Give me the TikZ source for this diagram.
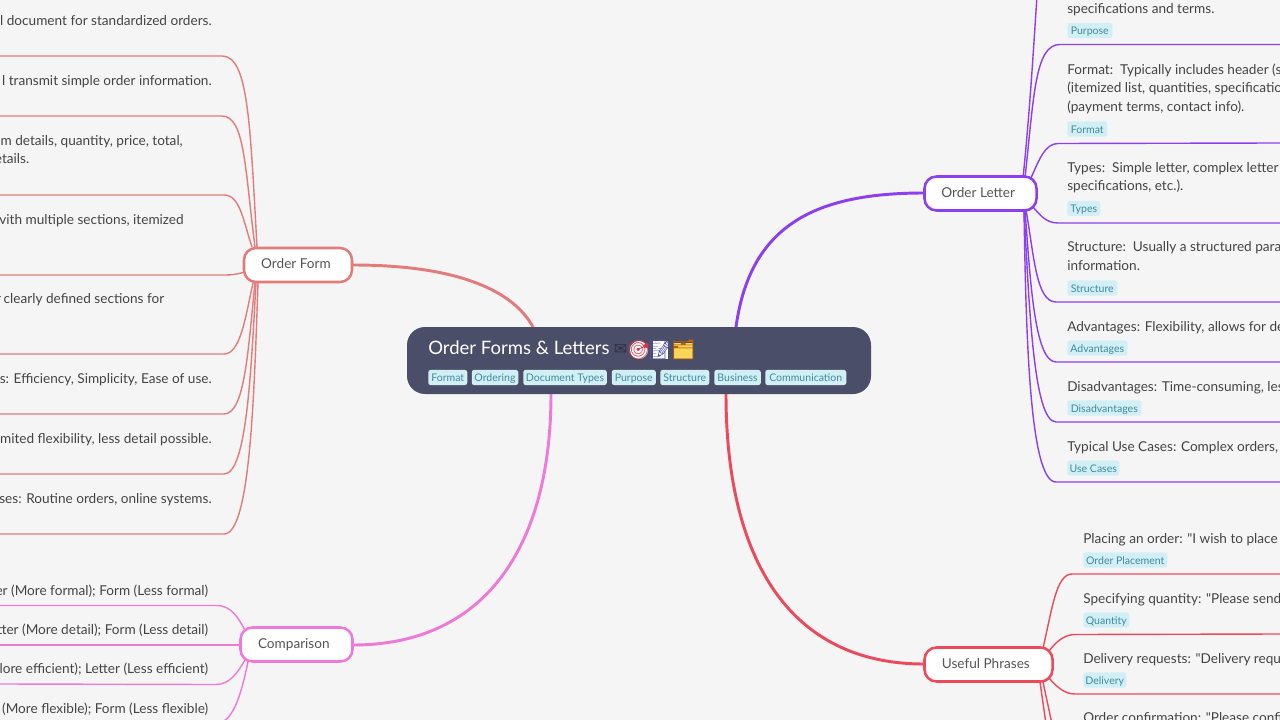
\documentclass[tikz,border=0pt]{standalone}
\usepackage{fontspec}
\setmainfont{Lato}
\newfontfamily\latofont{Lato}
\newfontfamily\emojifont{Noto Emoji}
\newfontfamily\symfont{DejaVu Sans}
\definecolor{pagebg}{HTML}{F5F5F5}
\definecolor{rootbg}{HTML}{4B4E69}
\definecolor{tagbg}{HTML}{D2EFF6}
\definecolor{tagfg}{HTML}{3F8AA0}
\definecolor{bodyfg}{HTML}{444444}
\definecolor{nodefg}{HTML}{555555}
\definecolor{cform}{HTML}{E37B7B}
\definecolor{ccomp}{HTML}{EE79D8}
\definecolor{cletter}{HTML}{8B3FF0}
\definecolor{cphrase}{HTML}{EC4A5C}
\definecolor{emred}{HTML}{DD3344}
\definecolor{emyellow}{HTML}{F8D65A}
\tikzset{
  x=0.75pt,y=-0.75pt,
  rootbox/.style={draw=none,fill=rootbg,rounded corners=13.5pt,minimum width=348pt,minimum height=50.25pt,inner sep=0pt},
  roottitle/.style={anchor=base west,text=white,font=\latofont\fontsize{13.9pt}{16pt}\selectfont,inner sep=0pt},
  branchbox/.style={draw=#1,fill=white,line width=1.9pt,rounded corners=9pt,text=nodefg,font=\latofont\fontsize{10.2pt}{12pt}\selectfont,inner sep=0pt,minimum height=25.5pt,text height=8pt,text depth=2.4pt},
  tagbox/.style={fill=tagbg,text=tagfg,rounded corners=1.8pt,font=\latofont\fontsize{7.9pt}{9pt}\selectfont,inner sep=0pt,minimum height=11.4pt,anchor=west,text height=7pt,text depth=0.6pt},
  lefttext/.style={anchor=east,text=bodyfg,font=\latofont\fontsize{10.2pt}{12pt}\selectfont,inner sep=0pt,text height=9.5pt,text depth=1.3pt},
  righttext/.style={anchor=west,text=bodyfg,font=\latofont\fontsize{10.2pt}{12pt}\selectfont,inner sep=0pt,text height=9.5pt,text depth=1.3pt},
  mainlink/.style={draw=#1,line width=2.2pt},
  childlink/.style={draw=#1,line width=1.05pt},
  emoji/.style={inner sep=0pt,font=\emojifont\fontsize{14.5pt}{16pt}\selectfont},
}
\newcommand{\tagat}[4]{\node[tagbox,minimum width=#3*0.75pt] (#1) at (#2) {#4};}
\begin{document}
\begin{tikzpicture}
\useasboundingbox (0,0) rectangle (1280,720);
\clip (0,0) rectangle (1280,720);
\fill[pagebg] (0,0) rectangle (1280,720);

\coordinate (rootA) at (533,327);
\coordinate (rootB) at (551,394);
\coordinate (rootC) at (736,327);
\coordinate (rootD) at (726,394);
\coordinate (F) at (353,265);
\coordinate (C) at (353,645);
\coordinate (L) at (924,193);
\coordinate (P) at (924,664);

% main links
\draw[mainlink=cform] (F) .. controls (445,265) and (510,285) .. (rootA);
\draw[mainlink=ccomp] (C) .. controls (490,645) and (551,540) .. (rootB);
\draw[mainlink=cletter] (L) .. controls (815,193) and (750,225) .. (rootC);
\draw[mainlink=cphrase] (P) .. controls (790,664) and (726,560) .. (rootD);

% ends of the child lines
\foreach \n/\y in {f1/56,f2/116,f3/195,f4/275,f5/354,f6/414,f7/474,f8/534,c1/605.5,c2/645,c3/684,c4/723}
  \coordinate (\n) at (0,\y);
\foreach \n/\y in {l2/44.5,l3/143,l4/223,l5/302,l6/362,l7/422,l8/482,p1/574,p2/634,p3/694}
  \coordinate (\n) at (1280,\y);
\coordinate (l1) at (1037,-4);
\coordinate (p4) at (1046,724);
\coordinate (p5) at (1052,724);

% left: Order Form
\draw[childlink=cform] (f1) -- (222,56) .. controls (248,56) and (250,120) .. (257,247);
\draw[childlink=cform] (f2) -- (222,116) .. controls (245,116) and (245,170) .. (255,247);
\draw[childlink=cform] (f3) -- (224,195) .. controls (240,195) and (243,220) .. (252,247);
\draw[childlink=cform] (f4) -- (226,275) .. controls (232,275) and (238,274) .. (245,272);
\draw[childlink=cform] (f5) -- (224,354) .. controls (240,354) and (245,320) .. (253,283);
\draw[childlink=cform] (f6) -- (224,414) .. controls (245,414) and (248,350) .. (255,283);
\draw[childlink=cform] (f7) -- (224,474) .. controls (247,474) and (251,370) .. (256,283);
\draw[childlink=cform] (f8) -- (224,534) .. controls (250,534) and (254,400) .. (258,283);

% left: Comparison
\draw[childlink=ccomp] (c1) -- (216,605.5) .. controls (232,605.5) and (238,618) .. (245,630);
\draw[childlink=ccomp] (c2) -- (242,645);
\draw[childlink=ccomp] (c3) -- (216,684.5) .. controls (230,684.5) and (238,672) .. (245,660);
\draw[childlink=ccomp] (c4) -- (222,722) .. controls (236,716) and (243,685) .. (248,662);

% right: Order Letter
\draw[childlink=cletter] (l1) .. controls (1034,40) and (1030,110) .. (1023,178);
\draw[childlink=cletter] (l2) -- (1060,44.5) .. controls (1035,44.5) and (1034,95) .. (1025,178);
\draw[childlink=cletter] (l3) -- (1058,143.5) .. controls (1045,143.5) and (1039,160) .. (1031,178);
\draw[childlink=cletter] (l4) -- (1058,223) .. controls (1046,223) and (1040,215) .. (1033,207);
\draw[childlink=cletter] (l5) -- (1056,302) .. controls (1036,302) and (1034,255) .. (1026,210);
\draw[childlink=cletter] (l6) -- (1056,362) .. controls (1034,362) and (1030,275) .. (1025,210);
\draw[childlink=cletter] (l7) -- (1056,422) .. controls (1033,422) and (1029,300) .. (1024,210);
\draw[childlink=cletter] (l8) -- (1056,482) .. controls (1030,482) and (1026,340) .. (1024,210);

% right: Useful Phrases
\draw[childlink=cphrase] (p1) -- (1072,574) .. controls (1056,574) and (1052,610) .. (1043,648);
\draw[childlink=cphrase] (p2) -- (1075,634.5) .. controls (1064,634.5) and (1056,642) .. (1049,651);
\draw[childlink=cphrase] (p3) -- (1075,694) .. controls (1064,694) and (1056,686) .. (1049,678);
\draw[childlink=cphrase] (p4) -- (1040,682);
\draw[childlink=cphrase] (p5) -- (1043,682);

% root
\node[rootbox] (root) at (639,360.5) {};
\node[roottitle] (title) at (428,354.3) {Order Forms \& Letters};
\node[anchor=center,inner sep=0pt,text=rootbg!62!black,font=\symfont\fontsize{12pt}{13pt}\selectfont] (e1) at (620.5,349.5) {✉};
\fill[white] (639,350) circle (9);
\fill[white] (652.5,341) rectangle (668,359);
\fill[emyellow] (674,343) rectangle (693,359);
\node[emoji,text=emred] (e2) at (639,349.5) {🎯};
\node[emoji,text=blue!35!gray] (e3) at (660.5,349.5) {📝};
\node[emoji,text=orange!75!black] (e4) at (683.5,349.5) {🗂};

\tagat{t1}{428,377.5}{39}{Format}
\tagat{t2}{471.5,377.5}{46.5}{Ordering}
\tagat{t3}{523,377.5}{83.5}{Document Types}
\tagat{t4}{611.5,377.5}{44}{Purpose}
\tagat{t5}{660,377.5}{49}{Structure}
\tagat{t6}{714,377.5}{46.5}{Business}
\tagat{t7}{765,377.5}{81}{Communication}

% branches
\node[branchbox=cform,minimum width=81pt] (bF) at (298,265) {\hspace*{-3pt}Order Form};
\node[branchbox=ccomp,minimum width=84pt] (bC) at (296.5,644.5) {\hspace*{-4pt}Comparison};
\node[branchbox=cletter,minimum width=84pt] (bL) at (980.5,193.5) {\hspace*{-3.5pt}Order Letter};
\node[branchbox=cphrase,minimum width=96pt] (bP) at (988.5,664.5) {\hspace*{-4pt}Useful Phrases};

% left texts
\node[lefttext] (x1) at (212,20) {l document for standardized orders.};
\node[lefttext] (x2) at (212,80) {l transmit simple order information.};
\node[lefttext] (x3) at (183,140) {m details, quantity, price, total,};
\node[lefttext] (x4) at (29.5,158.5) {etails.};
\node[lefttext] (x5) at (184,219.5) {vith multiple sections, itemized};
\node[lefttext] (x6) at (164.5,298.5) {r\kern-0.6pt{} clearly defined sections for};
\node[lefttext] (x7) at (212,378) {s: Efficiency, Simplicity, Ease of use.};
\node[lefttext] (x8) at (212,438) {mited flexibility, less detail possible.};
\node[lefttext] (x9) at (212,498) {ses: Routine orders, online systems.};
\node[lefttext] (y1) at (208.5,590) {er (More formal); Form (Less formal)};
\node[lefttext] (y2) at (208.5,629) {tter (More detail); Form (Less detail)};
\node[lefttext] (y3) at (208.5,668.5) {lore efficient); Letter (Less efficient)};
\node[lefttext] (y4) at (208.5,708) {(More flexible); Form (Less flexible)};

% right texts: Order Letter
\node[righttext] (r1) at (1067,8) {specifications and terms.};
\tagat{g1}{1067,30.5}{45}{Purpose}
\node[righttext] (r2) at (1067,69) {Format:\ \ Typically includes header (s};
\node[righttext] (r3) at (1067,87.5) {(itemized list, quantities, specification};
\node[righttext] (r4) at (1067,106) {(payment terms, contact info).};
\tagat{g2}{1067,129}{40}{Format}
\node[righttext] (r5) at (1067,167) {Types:\ \ Simple letter, complex letter};
\node[righttext] (r6) at (1067,185.5) {specifications, etc.).};
\tagat{g3}{1067,208.5}{33}{Types}
\node[righttext] (r7) at (1067,246.5) {Structure:\ \ Usually a structured para};
\node[righttext] (r8) at (1067,265) {information.};
\tagat{g4}{1067,288}{50}{Structure}
\node[righttext] (r9) at (1067,326) {Advantages: Flexibility, allows for de};
\tagat{g5}{1067,348}{60}{Advantages}
\node[righttext] (r10) at (1067,386) {Disadvantages: Time-consuming, les};
\tagat{g6}{1067,408}{74}{Disadvantages}
\node[righttext] (r11) at (1067,446) {Typical Use Cases: Complex orders,};
\tagat{g7}{1067,468}{52}{Use Cases}

% right texts: Useful Phrases
\node[righttext] (s1) at (1083,538) {Placing an order: "I wish to place};
\tagat{h1}{1083,560}{84}{Order Placement}
\node[righttext] (s2) at (1083,598) {Specifying quantity: "Please send};
\tagat{h2}{1083,620}{46}{Quantity}
\node[righttext] (s3) at (1083,658) {Delivery requests: "Delivery requi};
\tagat{h3}{1083,680}{43}{Delivery}
\node[righttext] (s4) at (1083,717) {Order confirmation: "Please confi};
\end{tikzpicture}
\end{document}
